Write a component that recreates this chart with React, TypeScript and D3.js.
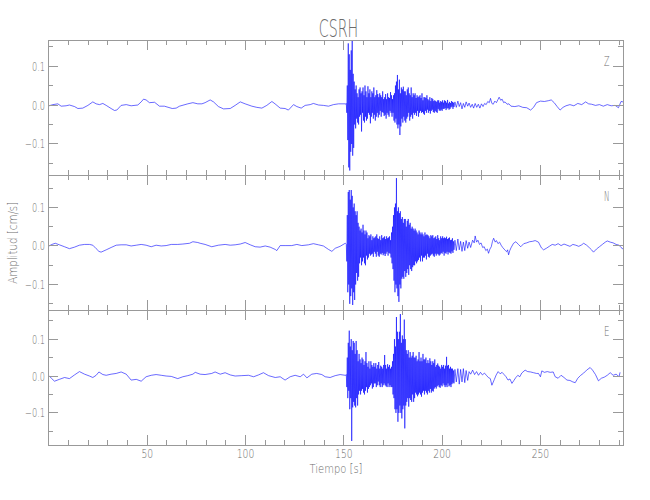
import React from 'react';
import * as d3 from 'd3';

// ---------- data ----------
const STATION = 'CSRH';
const CHANNELS = ['Z', 'N', 'E'];
const TIME_DOMAIN: [number, number] = [-0.5, 292];
const X_TICK_LABELS = [50, 100, 150, 200, 250];
const X_MINOR_TICKS = [10, 20, 30, 40, 60, 70, 80, 90, 110, 120, 130, 140, 160, 170, 180, 190, 210, 220, 230, 240, 260, 270, 280, 290];
const Y_TICK_LABELS = [-0.1, 0.0, 0.1];
const Y_MINOR_TICKS = [-0.15, -0.05, 0.05, 0.15];
const Y_DOMAINS: [number, number][] = [[-0.1795, 0.1667], [-0.166, 0.184], [-0.187, 0.179]];

// strong-motion part sampled every 0.25 s from 151 s to 206 s
const BURST_START = 151;
const BURST_STEP = 0.25;

// ---- Z ----
const Z_PRE: [number, number][] = [[0,-.002],[2,.001],[4.5,.003],[6.2,-.003],[8.7,-.002],[10.4,0],[13,-.004],[14.7,-.009],[17.2,-.008],[19.8,-.001],[22.3,.008],[24,.003],[25.7,.001],[27.4,.004],[29.1,-.001],[31.6,-.009],[33.3,-.014],[34.5,-.013],[36.7,-.001],[39.3,.001],[41.8,-.002],[45.2,0],[46.9,.008],[48.1,.015],[49.4,.013],[51.1,.006],[53.7,.007],[56.2,-.003],[58.7,-.003],[62.7,-.009],[64.7,-.008],[66.4,-.003],[70.6,.003],[73.2,.006],[75.7,.003],[77.8,.003],[79.4,.006],[82,.013],[83.7,.008],[86.2,-.004],[88.8,-.010],[92.2,-.009],[94.7,-.001],[97.3,.008],[99.8,.003],[103.2,-.003],[105.7,-.006],[108.3,-.008],[110.8,-.001],[113.4,.009],[115,.003],[117.6,-.008],[120.1,-.009],[121.8,-.013],[124.4,.001],[126.1,-.004],[128.3,-.008],[130.3,-.001],[132.9,.001],[134.5,.004],[137.1,0],[139.6,-.001],[142.2,-.003],[144.7,.001],[147.3,.003],[150.7,.003]];
const Z_BURST = [
  .002,.004,-.02,.05,-.09,.158,-.16,.13,-.168,.09,-.12,.14,-.1,.165,-.13,.08,-.11,.06,-.05,.04,
  -.06,.05,-.035,.03,-.045,.02,-.05,.04,-.03,.045,-.025,.03,-.068,.035,-.02,.045,-.04,.025,-.045,.05,
  -.03,.035,-.04,.02,-.035,.048,-.02,.03,-.025,.04,-.047,.02,-.03,.035,-.02,.03,-.035,.045,-.025,.02,
  -.04,.025,-.03,.038,-.02,.028,-.032,.02,-.025,.03,-.015,.025,-.03,.02,-.018,.035,-.02,.015,-.028,.02,
  -.025,.028,-.035,.015,-.02,.03,-.025,.02,-.03,.018,-.015,.033,-.02,.025,-.03,.015,-.02,.025,-.04,.03,
  -.045,.05,-.035,.06,-.05,.077,-.06,.04,-.05,.065,-.077,.03,-.055,.045,-.035,.04,-.045,.047,-.03,.035,
  -.04,.035,-.045,.025,-.035,.04,-.03,.045,-.02,.03,-.04,.025,-.03,.045,-.025,.02,-.035,.03,-.02,.025,
  -.025,.03,-.02,.018,-.028,.025,-.015,.02,-.03,.022,-.02,.025,-.015,.018,-.02,.03,-.018,.012,-.022,.02,
  -.025,.02,-.015,.018,-.02,.025,-.012,.015,-.02,.012,-.015,.02,-.022,.01,-.015,.018,-.012,.015,-.018,.01,
  -.02,.012,-.015,.01,-.018,.008,-.02,.012,-.01,.012,-.014,.006,-.015,.01,-.012,.008,-.015,.012,-.01,.006,
  -.01,.012,-.008,.01,-.013,.006,-.009,.013,-.008,.004,-.012,.008,-.01,.005,-.006,.01,-.004,.008,-.01,.006,
  -.005];
const Z_POST: [number, number][] = [[206.5,.008],[207.2,-.006],[208,.01],[208.7,-.004],[209.4,.006],[210.1,-.01],[210.8,.004],[211.5,-.006],[212.2,.008],[213,-.003],[213.7,.005],[214.5,-.006],[215.3,.002],[216,-.008],[216.8,.004],[217.6,-.006],[218.4,.002],[219.2,-.008],[220,.003],[220.8,-.004],[221.6,.004],[222.4,.001],[223.2,.009],[224,.006],[224.6,.017],[225.3,.004],[226,.002],[226.8,.01],[227.6,.006],[228.4,.014],[229,.02],[229.8,.012],[230.5,.015],[231.3,.006],[232,.008],[233,.002],[234,.003],[235,-.003],[237,-.004],[239,-.002],[241,-.006],[243,-.007],[245,-.013],[246.5,-.006],[248,.006],[250,.01],[252,.009],[254,.011],[255.5,.013],[257,.006],[258.5,-.004],[260,-.013],[261.5,-.006],[263,-.002],[265,.001],[267,-.002],[269,.004],[271,.001],[273,.008],[274.5,.003],[276,.002],[278,-.001],[280,.001],[282,-.003],[284,.001],[286,-.002],[288,-.001],[289.7,-.007],[291,.009],[292,.008]];

// ---- N ----
const N_PRE: [number, number][] = [[0,0],[1.5,.004],[3.2,.007],[5.3,.003],[7.9,-.002],[10.4,-.007],[13,-.003],[15.5,.002],[18.1,.004],[20.6,.004],[22.3,.002],[24,-.007],[25.4,-.014],[26.5,-.016],[29.1,-.010],[31.6,-.004],[34.2,.002],[36.7,.003],[39.3,.003],[41.8,0],[44.4,.002],[46.9,.004],[49.4,.002],[52,-.002],[54.5,.002],[57.1,0],[59.6,.001],[62.2,.004],[65.5,.004],[68.1,.005],[71.5,.007],[73.2,.011],[75.7,.009],[76.9,.007],[79.4,.004],[82.8,-.002],[86.2,.002],[89.6,.004],[92.2,.002],[94.7,.003],[97.3,.005],[99.8,.009],[102.4,.003],[104.9,-.002],[107.4,-.003],[110,0],[112.5,-.003],[115.1,-.009],[115.9,-.012],[117.6,.001],[120.1,.001],[123.5,.001],[126.1,.004],[128.6,.001],[132,.003],[134.5,.006],[137.1,.003],[139.6,0],[142.2,-.009],[143.9,-.014],[145.6,-.006],[148.1,-.001],[150.7,.007]];
const N_BURST = [
  .006,.004,-.04,.08,-.12,.14,-.1,.145,-.15,.12,-.13,.145,-.11,.13,-.153,.1,-.12,.11,-.14,.09,
  -.1,.08,-.07,.09,-.09,.06,-.08,.05,-.045,.04,-.03,.045,-.05,.035,-.04,.055,-.03,.04,-.045,.03,
  -.05,.04,-.025,.035,-.035,.02,-.03,.028,-.02,.025,-.025,.03,-.022,.015,-.02,.025,-.028,.02,-.015,.022,
  -.02,.025,-.028,.03,-.015,.02,-.025,.018,-.028,.025,-.02,.015,-.022,.028,-.018,.02,-.024,.022,-.02,.025,
  -.026,.018,-.02,.025,-.015,.02,-.025,.022,-.018,.025,-.02,.015,-.03,.035,-.045,.05,-.06,.08,-.09,.1,
  -.12,.11,-.1,.176,-.11,.09,-.13,.1,-.145,.085,-.1,.09,-.11,.07,-.085,.075,-.08,.06,-.085,.07,
  -.065,.07,-.08,.05,-.07,.065,-.06,.07,-.075,.055,-.05,.06,-.06,.045,-.065,.05,-.055,.045,-.05,.04,
  -.05,.045,-.04,.04,-.045,.035,-.04,.03,-.036,.04,-.03,.035,-.04,.03,-.025,.035,-.04,.03,-.03,.025,
  -.03,.035,-.025,.028,-.035,.03,-.02,.028,-.028,.025,-.03,.02,-.025,.028,-.022,.025,-.02,.028,-.025,.02,
  -.028,.022,-.02,.025,-.025,.018,-.02,.028,-.022,.02,-.025,.015,-.022,.025,-.018,.02,-.02,.025,-.015,.02,
  -.025,.022,-.018,.02,-.02,.024,-.015,.018,-.022,.02,-.016,.022,-.018,.015,-.02,.016,-.014,.02,-.018,.012,
  -.01];
const N_POST: [number, number][] = [[206.5,.015],[207.2,-.012],[208,.018],[208.7,-.01],[209.4,.012],[210.1,-.014],[210.8,.01],[211.5,-.012],[212.2,.014],[213,-.006],[213.7,.01],[214.5,-.004],[215.5,.015],[216.3,.008],[216.8,.026],[217.5,.01],[218.2,.015],[219,.004],[219.8,.008],[220.6,-.004],[221.4,-.002],[222.2,-.012],[223,-.008],[223.6,-.019],[224.3,-.008],[225,-.002],[225.6,.012],[226.2,.02],[227,.01],[227.6,.014],[228.4,.006],[229.2,.01],[230,.002],[230.8,-.004],[231.5,-.008],[232.2,-.012],[232.8,-.015],[233.3,-.01],[233.8,-.023],[234.4,-.012],[235,-.005],[236.3,.007],[237.5,.011],[238.8,.004],[240,-.002],[241.5,.006],[243,.008],[244.5,.011],[246,.012],[247.3,.014],[249,.01],[250.5,-.005],[251.6,-.01],[253,-.006],[254.5,-.001],[256,.004],[257.5,.002],[259,.006],[260.5,.001],[262,.005],[263.5,.002],[265,-.001],[266.5,.004],[268,.002],[269.5,-.001],[271,.003],[272,.007],[273.5,.002],[275,-.005],[276,-.01],[277,-.016],[278.5,-.008],[280,-.002],[281.5,.004],[283,.01],[284,.013],[285.5,.01],[287,.008],[288.5,.004],[290,.002],[291,-.004],[292,-.008]];

// ---- E ----
const E_PRE: [number, number][] = [[0,.001],[1.2,-.006],[2.8,-.014],[5.3,-.009],[7.9,-.004],[10.4,-.007],[13,.003],[15.5,.012],[18.1,.005],[20.6,0],[22.3,-.004],[24,.002],[25.4,.011],[27.4,.004],[29.1,.002],[31.6,.005],[34.2,.007],[36.7,.011],[39.3,.005],[41.8,-.011],[44.4,-.009],[46.9,-.014],[49.4,-.002],[52,.002],[54.5,.004],[57.1,.002],[59.6,0],[62.2,-.001],[65.5,-.007],[68.1,-.002],[70.6,.001],[73.2,.005],[74.4,.010],[76.9,.005],[79.4,.004],[82.8,.007],[84.5,.011],[87.1,.005],[89.6,.009],[92.2,.003],[94.7,0],[98.1,.001],[101.5,.002],[104.1,-.002],[106.6,.003],[109.1,.009],[111.7,.001],[115.1,-.004],[117.6,-.002],[120.1,-.011],[122.7,-.002],[125.2,.002],[127.8,-.002],[129.5,.005],[131.2,-.005],[133.7,.005],[136.2,.007],[138.8,.004],[140.5,-.002],[143,-.004],[145.6,.001],[148.1,.004],[150.7,.002]];
const E_BURST = [
  .002,.004,-.03,.05,-.06,.09,-.04,.123,-.09,.08,-.06,.1,-.176,.07,-.085,.095,-.07,.09,-.08,.06,
  -.085,.095,-.06,.07,-.08,.04,-.05,.06,-.04,.045,-.05,.035,-.04,.05,-.035,.045,-.045,.03,-.05,.04,
  -.04,.065,-.03,.035,-.045,.025,-.035,.04,-.03,.02,-.025,.04,-.02,.03,-.034,.025,-.03,.035,-.02,.025,
  -.02,.035,-.03,.02,-.025,.03,-.015,.038,-.025,.02,-.03,.028,-.02,.025,-.03,.02,-.025,.03,-.02,.057,
  -.025,.03,-.028,.02,-.03,.032,-.02,.025,-.03,.03,-.025,.02,-.03,.025,-.03,.04,-.05,.06,-.06,.1,
  -.09,.08,-.1,.16,-.09,.12,-.124,.1,-.1,.12,-.08,.168,-.1,.09,-.115,.11,-.09,.1,-.08,.153,
  -.142,.1,-.08,.07,-.07,.06,-.06,.07,-.083,.05,-.06,.065,-.065,.05,-.07,.055,-.05,.065,-.07,.05,
  -.06,.05,-.045,.055,-.05,.04,-.055,.045,-.05,.065,-.045,.04,-.05,.05,-.056,.04,-.045,.06,-.04,.045,
  -.05,.045,-.04,.05,-.045,.035,-.05,.043,-.04,.035,-.045,.048,-.035,.04,-.045,.03,-.04,.04,-.042,.035,
  -.034,.045,-.03,.025,-.034,.03,-.028,.034,-.025,.028,-.03,.025,-.032,.02,-.025,.03,-.028,.025,-.02,.03,
  -.025,.02,-.03,.028,-.025,.052,-.03,.028,-.02,.03,-.028,.02,-.025,.025,-.03,.02,-.022,.02,-.018,.015,
  -.02];
const E_POST: [number, number][] = [[206.5,.018],[207.2,-.016],[208,.02],[208.7,-.022],[209.4,.018],[210.1,-.016],[210.8,.02],[211.5,-.018],[212.2,.015],[213,-.012],[213.7,.012],[214.5,.005],[215.5,.016],[216.5,.004],[217.5,.012],[218.5,.002],[219.5,.01],[220.5,.003],[221.5,.008],[222.5,.002],[223.5,-.004],[224.5,-.007],[225.3,-.025],[226.5,-.01],[227.5,.003],[228.5,.012],[229.5,.006],[230.5,.01],[231.5,.004],[232.5,-.002],[233.5,-.011],[234.5,-.008],[235.5,-.02],[236.5,-.012],[237.5,-.004],[238.5,.002],[239.5,-.002],[240.5,.008],[242.2,.016],[243.5,.012],[245,.011],[246.5,.009],[248,.007],[249,.007],[250,-.002],[250.7,.014],[252,.01],[253.5,.012],[255,.01],[256.5,.011],[257.5,-.002],[259,-.006],[260.5,.002],[262,-.004],[263.5,-.011],[265,-.012],[266.5,-.016],[267.7,-.018],[269,-.006],[270.5,.002],[272,.008],[273.5,.016],[275.3,.023],[276.5,.016],[278,.004],[279.5,-.013],[281,-.006],[282.5,-.003],[284,.002],[285.5,.009],[287,.002],[288.5,.005],[290,-.002],[290.5,.01]];

// ---------- layout ----------
const W = 650;
const H = 500;
const LEFT = 48;
const RIGHT = 623;
const TOP = 40;
const PANEL_H = 135;
const AXIS_COLOR = '#999999';
const TEXT_COLOR = '#6c6c6c';
const LINE_COLOR = '#0000ff';
const FONT = "'DejaVu Sans', 'Liberation Sans', sans-serif";

function buildTrace(pre: [number, number][], burst: number[], post: [number, number][]) {
  const pts: [number, number][] = pre.slice();
  burst.forEach((v, i) => pts.push([BURST_START + i * BURST_STEP, v]));
  post.forEach((p) => pts.push(p));
  return pts;
}

const fmt = d3.format('.1f');

export default function App() {
  const x = d3.scaleLinear().domain(TIME_DOMAIN).range([LEFT, RIGHT]);
  const traces = [
    buildTrace(Z_PRE, Z_BURST, Z_POST),
    buildTrace(N_PRE, N_BURST, N_POST),
    buildTrace(E_PRE, E_BURST, E_POST),
  ];
  const bottomAll = TOP + PANEL_H * CHANNELS.length;

  return (
    <svg width={W} height={H} style={{ position: 'absolute', left: 0, top: 0, display: 'block', background: '#fff' }} fontFamily={FONT}>
      <rect x={0} y={0} width={W} height={H} fill="#fff" />
      <text x={338.5} y={37} fontSize={24} fontWeight={200} fill={TEXT_COLOR} textAnchor="middle" textLength={39.5} lengthAdjust="spacingAndGlyphs">{STATION}</text>

      {CHANNELS.map((ch, i) => {
        const top = TOP + i * PANEL_H;
        const bottom = top + PANEL_H;
        const y = d3.scaleLinear().domain(Y_DOMAINS[i]).range([bottom, top]);
        const line = d3.line<[number, number]>().x((d) => x(d[0])).y((d) => y(d[1]));
        const clipId = `clip-${ch}`;
        return (
          <g key={ch}>
            <defs>
              <clipPath id={clipId}>
                <rect x={LEFT} y={top} width={RIGHT - LEFT} height={PANEL_H} />
              </clipPath>
            </defs>
            <path d={line(traces[i]) || ''} fill="none" stroke={LINE_COLOR} strokeWidth={0.65} strokeOpacity={0.9} strokeLinejoin="round" clipPath={`url(#${clipId})`} />
            <rect x={LEFT} y={top} width={RIGHT - LEFT} height={PANEL_H} fill="none" stroke={AXIS_COLOR} strokeWidth={1} shapeRendering="crispEdges" />
            {X_TICK_LABELS.map((t) => (
              <g key={`xM${t}`} stroke={AXIS_COLOR} shapeRendering="crispEdges">
                <line x1={x(t)} x2={x(t)} y1={top} y2={top + 10} />
                <line x1={x(t)} x2={x(t)} y1={bottom} y2={bottom - 10} />
              </g>
            ))}
            {X_MINOR_TICKS.map((t) => (
              <g key={`xm${t}`} stroke={AXIS_COLOR} shapeRendering="crispEdges">
                <line x1={x(t)} x2={x(t)} y1={top} y2={top + 5} />
                <line x1={x(t)} x2={x(t)} y1={bottom} y2={bottom - 5} />
              </g>
            ))}
            {Y_TICK_LABELS.map((v) => (
              <g key={`yM${v}`}>
                <line x1={LEFT} x2={LEFT + 10} y1={y(v)} y2={y(v)} stroke={AXIS_COLOR} shapeRendering="crispEdges" />
                <line x1={RIGHT} x2={RIGHT - 10} y1={y(v)} y2={y(v)} stroke={AXIS_COLOR} shapeRendering="crispEdges" />
                <text x={45} y={y(v) + 4.5} fontSize={12.5} fontWeight={200} fill={TEXT_COLOR} textAnchor="end" textLength={v < 0 ? 20 : 13} lengthAdjust="spacingAndGlyphs">{fmt(v)}</text>
              </g>
            ))}
            {Y_MINOR_TICKS.filter((v) => v > Y_DOMAINS[i][0] && v < Y_DOMAINS[i][1]).map((v) => (
              <g key={`ym${v}`} stroke={AXIS_COLOR} shapeRendering="crispEdges">
                <line x1={LEFT} x2={LEFT + 5} y1={y(v)} y2={y(v)} />
                <line x1={RIGHT} x2={RIGHT - 5} y1={y(v)} y2={y(v)} />
              </g>
            ))}
            <text x={609.5} y={top + 26} fontSize={13.5} fontWeight={200} fill={TEXT_COLOR} textAnchor="end" textLength={5.5} lengthAdjust="spacingAndGlyphs">{ch}</text>
          </g>
        );
      })}

      {X_TICK_LABELS.map((t) => (
        <text key={`xl${t}`} x={x(t)} y={bottomAll + 13.3} fontSize={12.5} fontWeight={200} fill={TEXT_COLOR} textAnchor="middle" textLength={t >= 100 ? 17.6 : 11.7} lengthAdjust="spacingAndGlyphs">{t}</text>
      ))}
      <text x={336} y={472.5} fontSize={12.5} fontWeight={200} fill={TEXT_COLOR} textAnchor="middle" textLength={53} lengthAdjust="spacingAndGlyphs">Tiempo [s]</text>
      <text transform="translate(16.7,242.8) rotate(-90)" fontSize={13} fontWeight={200} fill={TEXT_COLOR} textAnchor="middle" textLength={82} lengthAdjust="spacingAndGlyphs">Amplitud [cm/s]</text>
    </svg>
  );
}
